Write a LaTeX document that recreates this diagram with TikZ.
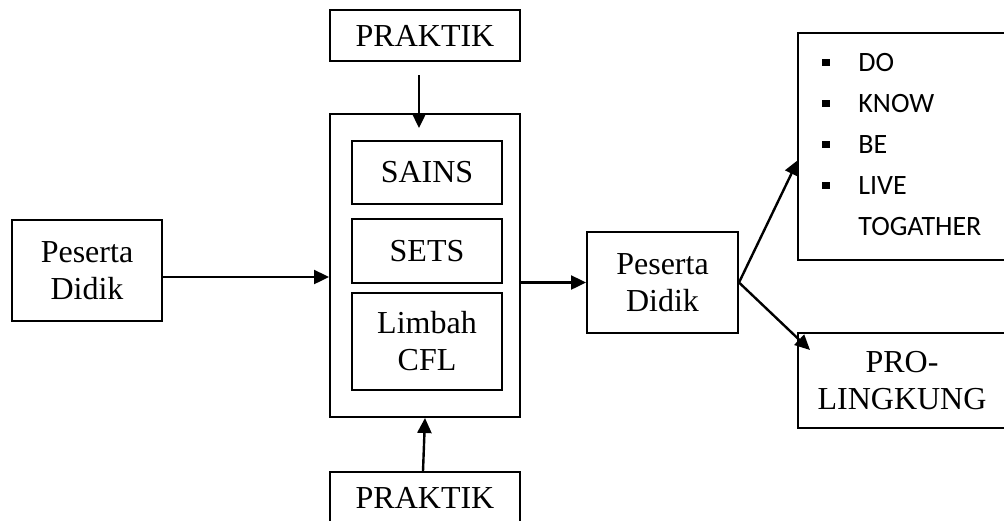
\documentclass[tikz,border=0pt]{standalone}
\usepackage{fontspec}
\setmainfont{Liberation Serif}
\newfontfamily\listfont{Carlito}
\usetikzlibrary{arrows.meta}
\newcommand{\sqbul}{\makebox[18pt][l]{\raisebox{2.6pt}{\rule{3.6pt}{3.6pt}}}}
\begin{document}
\begin{tikzpicture}[x=0.5pt,y=-0.5pt,
  box/.style={draw, line width=1pt, inner sep=0pt, align=center,
              font=\fontsize{16}{18.5}\selectfont},
  link/.style={line width=1.2pt, -{Triangle[length=7.5pt,width=7pt]}},
  item/.style={anchor=base west, inner sep=0pt, font=\listfont\fontsize{14}{17}\selectfont}]
\useasboundingbox (0,0) rectangle (1004,520);

% input and central block
\node[box, minimum width=75pt, minimum height=50.5pt] (pd1) at (87,270.5) {Peserta\\Didik};
\node[box, minimum width=95pt, minimum height=151.5pt] (main) at (425,265.5) {};
\node[box, minimum width=75pt, minimum height=31.5pt] (sains) at (427,172.5) {SAINS};
\node[box, minimum width=75pt, minimum height=32pt] (sets) at (427,251) {SETS};
\node[box, minimum width=75pt, minimum height=48.5pt] (limbah) at (427,341.5) {Limbah\\CFL};
\node[box, minimum width=95pt, minimum height=25.5pt] (pk1) at (425,35.5) {PRAKTIK};
\node[box, minimum width=95pt, minimum height=25.5pt] (pk2) at (425,497.5) {PRAKTIK};

% output side
\node[box, minimum width=75.5pt, minimum height=50.5pt] (pd2) at (662.5,282.5) {Peserta\\Didik};
\node[box, minimum width=104pt, minimum height=113.5pt] (goals) at (902,146.5) {};
\node[box, minimum width=104pt, minimum height=47.5pt] (pro) at (902,380.5) {PRO-\\LINGKUNG};

% list of outcomes
\node[item] (i1) at (822,71) {\sqbul DO};
\node[item] (i2) at (822,112) {\sqbul KNOW};
\node[item] (i3) at (822,153) {\sqbul BE};
\node[item] (i4) at (822,194) {\sqbul LIVE};
\node[item] (i5) at (822,235) {\hspace{18pt}TOGATHER};

% connectors
\coordinate (t1) at (419,75);
\coordinate (t1e) at (419,128);
\coordinate (a1) at (0,277);
\coordinate (up) at (798,160);
\coordinate (dn) at (810,350);
\draw[link] (t1) -- (t1e);
\draw[link] ([xshift=-1pt]pk2.north) -- (main.south);
\draw[link] (pd1.east |- a1) -- (main.west |- a1);
\draw[link] (main.east |- pd2.west) -- (pd2.west);
\draw[link] (pd2.east) -- (up);
\draw[link] (pd2.east) -- (dn);
\end{tikzpicture}
\end{document}
